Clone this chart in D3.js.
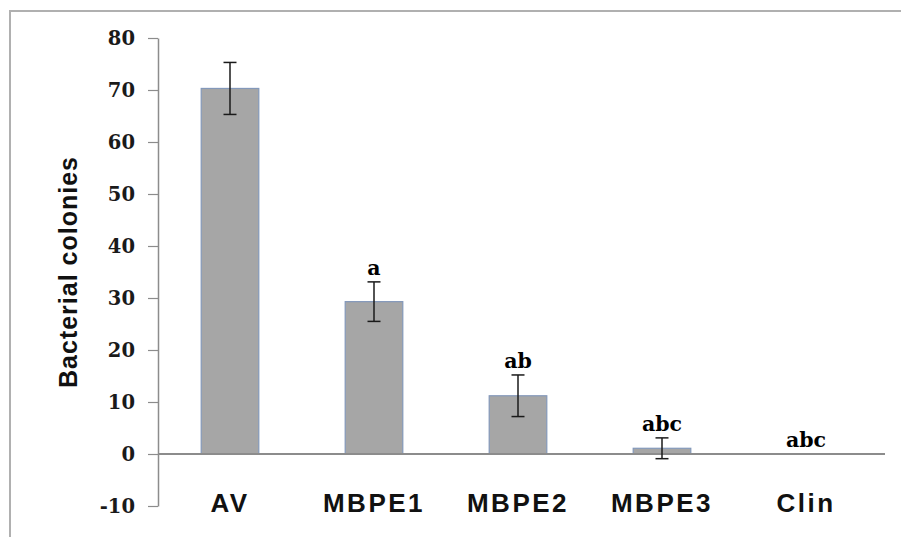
<!DOCTYPE html>
<html>
<head>
<meta charset="utf-8">
<script src="https://cdn.jsdelivr.net/npm/d3@7"></script>
<style>
  body { margin: 0; background: #fff; }
  svg { display: block; }
</style>
</head>
<body>
<div id="vis"></div>
<script>
// bacterial colonies chart

const FRAME_WIDTH = 901;
const FRAME_HEIGHT = 537;
const MARGINS = {left: 158, right: 23, top: 38, bottom: 31};

const categories = ["AV", "MBPE1", "MBPE2", "MBPE3", "Clin"];
const values = [70.3, 29.3, 11.2, 1.1, 0];
const errors = [5.0, 3.8, 4.0, 2.0, 0];
const letters = ["", "a", "ab", "abc", "abc"];
const yTicks = [-10, 0, 10, 20, 30, 40, 50, 60, 70, 80];

const FRAME = d3.select("#vis")
  .append("svg")
    .attr("width", FRAME_WIDTH)
    .attr("height", FRAME_HEIGHT);

// outer frame (top + left edges visible)
FRAME.append("path")
  .attr("d", "M10,537 L10,11 L901,11")
  .attr("fill", "none")
  .attr("stroke", "#b0b0b0")
  .attr("stroke-width", 2);

// scales
const X_SCALE = d3.scaleBand()
  .domain(categories)
  .range([MARGINS.left, 878])
  .paddingInner(0.6)
  .paddingOuter(0.3);

const Y_SCALE = d3.scaleLinear()
  .domain([-10, 80])
  .range([FRAME_HEIGHT - MARGINS.bottom, MARGINS.top]);

// y axis
const yAxis = d3.axisLeft(Y_SCALE)
  .tickValues(yTicks)
  .tickFormat((d) => String(d))
  .tickSize(10)
  .tickSizeOuter(0)
  .tickPadding(13);

const gy = FRAME.append("g")
  .attr("transform", `translate(${MARGINS.left},0)`)
  .call(yAxis);
gy.select(".domain").attr("stroke", "#8c8c8c").attr("stroke-width", 1.5);
gy.selectAll(".tick line").attr("stroke", "#8c8c8c").attr("stroke-width", 1.2);
gy.selectAll(".tick text")
  .attr("fill", "#1a1a1a")
  .style("font-family", "'DejaVu Serif', serif")
  .style("font-weight", "bold")
  .style("font-size", "19.5px");

// bars
FRAME.selectAll(".bar")
  .data(categories)
  .enter()
  .append("rect")
    .attr("class", "bar")
    .attr("x", (d) => X_SCALE(d))
    .attr("width", X_SCALE.bandwidth())
    .attr("y", (d, i) => Y_SCALE(Math.max(values[i], 0)))
    .attr("height", (d, i) => Math.abs(Y_SCALE(values[i]) - Y_SCALE(0)))
    .attr("fill", "#a6a6a6")
    .attr("stroke", "#8398ba")
    .attr("stroke-width", 1.2);

// zero line (category axis)
FRAME.append("line")
  .attr("x1", MARGINS.left)
  .attr("x2", 885)
  .attr("y1", Y_SCALE(0))
  .attr("y2", Y_SCALE(0))
  .attr("stroke", "#8c8c8c")
  .attr("stroke-width", 2);

// error bars
const errG = FRAME.selectAll(".err")
  .data(categories.filter((d, i) => errors[i] > 0))
  .enter()
  .append("g")
    .attr("class", "err")
    .attr("stroke", "#1a1a1a")
    .attr("stroke-width", 1.5);

errG.each(function(d) {
  const i = categories.indexOf(d);
  const cx = X_SCALE(d) + X_SCALE.bandwidth() / 2;
  const hi = Y_SCALE(values[i] + errors[i]);
  const lo = Y_SCALE(values[i] - errors[i]);
  const g = d3.select(this);
  g.append("line").attr("x1", cx).attr("x2", cx).attr("y1", hi).attr("y2", lo);
  g.append("line").attr("x1", cx - 6.5).attr("x2", cx + 6.5).attr("y1", hi).attr("y2", hi);
  g.append("line").attr("x1", cx - 6.5).attr("x2", cx + 6.5).attr("y1", lo).attr("y2", lo);
});

// significance letters
FRAME.selectAll(".sig")
  .data(categories)
  .enter()
  .append("text")
    .attr("class", "sig")
    .attr("x", (d) => X_SCALE(d) + X_SCALE.bandwidth() / 2)
    .attr("y", (d, i) => Y_SCALE(values[i] + errors[i]) - 7)
    .attr("text-anchor", "middle")
    .style("font-family", "'DejaVu Serif', serif")
    .style("font-weight", "bold")
    .style("font-size", "20.5px")
    .attr("fill", "#000")
    .text((d, i) => letters[i]);

// category labels
FRAME.selectAll(".cat")
  .data(categories)
  .enter()
  .append("text")
    .attr("class", "cat")
    .attr("x", (d) => X_SCALE(d) + X_SCALE.bandwidth() / 2)
    .attr("y", 512)
    .attr("text-anchor", "middle")
    .style("font-family", "'Liberation Sans', Arial, sans-serif")
    .style("font-weight", "bold")
    .style("font-size", "26px")
    .style("letter-spacing", "2.5px")
    .attr("fill", "#111")
    .text((d) => d);

// y label
FRAME.append("text")
  .attr("transform", "translate(77,272) rotate(-90)")
  .attr("text-anchor", "middle")
  .style("font-family", "'Liberation Sans', Arial, sans-serif")
  .style("font-weight", "bold")
  .style("font-size", "25px")
  .style("letter-spacing", "1px")
  .attr("fill", "#111")
  .text("Bacterial colonies");
</script>
</body>
</html>
